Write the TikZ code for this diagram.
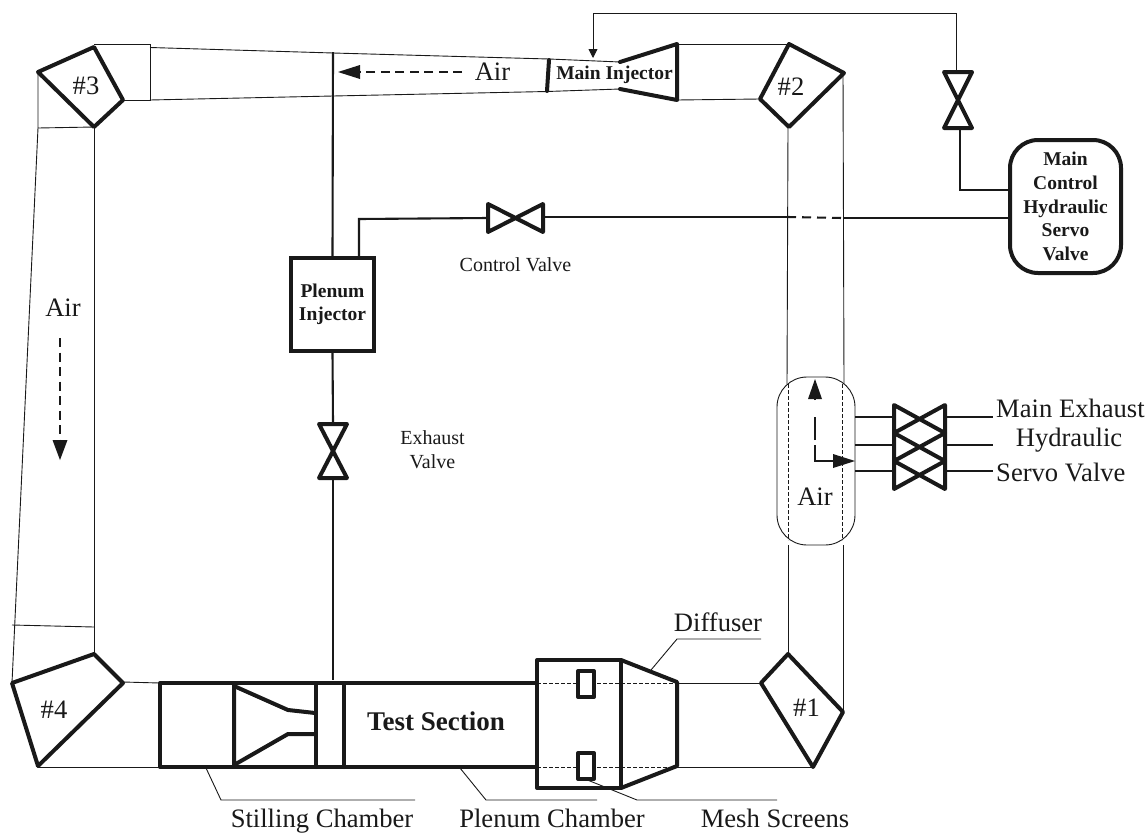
\documentclass[tikz,border=0pt]{standalone}
\usepackage{fontspec}
\setmainfont{Liberation Serif}
\usetikzlibrary{arrows.meta}
\tikzset{
    thinline/.style={draw=linecolor, line width=0.9pt},
    midline/.style={draw=linecolor, line width=2.1pt},
    heavyline/.style={draw=linecolor, line width=4pt, line join=round, line cap=round},
    hiddenline/.style={draw=linecolor, line width=0.8pt, dash pattern=on 3.5pt off 2.5pt},
    flowline/.style={draw=linecolor, line width=2.2pt, dash pattern=on 9pt off 5.5pt},
    flowtip/.style={fill=linecolor, draw=none},
    bigtext/.style={font=\fontsize{26.6}{29}\selectfont, text=linecolor, inner sep=0pt},
    smalltext/.style={font=\fontsize{20}{24}\selectfont, text=linecolor, inner sep=0pt, align=center},
    boldtext/.style={font=\fontsize{19.5}{23.6}\selectfont\bfseries, text=linecolor, inner sep=0pt, align=center}
}
\begin{document}
\begin{tikzpicture}[x=1pt, y=-1pt]
    % Define the colors
    \definecolor{linecolor}{RGB}{25, 25, 25}
    \useasboundingbox (0,0) rectangle (1148,833);

    % Draw the duct walls
    \draw[thinline] (94,44) -- (150,44) -- (150,100) -- (123,100);
    \draw[thinline] (150,47.5) -- (333,53) -- (549,59);
    \draw[thinline] (549,59) -- (620,62);
    \draw[thinline] (150,100) -- (333,96) -- (547,91.5) -- (620,89);
    \draw[thinline] (677,44) -- (789,44);
    \draw[thinline] (677,100) -- (760,99);
    \draw[thinline] (38,72) -- (38,128) -- (94,127);
    \draw[thinline] (38,128) -- (12,683);
    \draw[thinline] (94,127) -- (94,654);
    \draw[thinline] (12,625) -- (94,627);
    \draw[thinline] (123,682) -- (160,683);
    \draw[thinline] (38,767) -- (160,767);
    \draw[thinline] (677,683) -- (761,683);
    \draw[thinline] (677,767) -- (813,767);
    \draw[thinline] (788,127) -- (787,384);
    \draw[thinline] (843,73) -- (844,384);
    \draw[thinline] (788,545) -- (788,653);
    \draw[thinline] (843,545) -- (843,712);

    % Draw the corners
    \draw[heavyline] (94,47) -- (123,100) -- (94,127) -- (38,72) -- cycle;
    \draw[heavyline] (789,44) -- (844,73) -- (789,127) -- (760,99) -- cycle;
    \draw[heavyline] (788,654) -- (843,712) -- (813,767) -- (761,683) -- cycle;
    \draw[heavyline] (94,654) -- (123,683) -- (38,766) -- (12,683) -- cycle;
    \node[bigtext] (cornerthree) at (86,86) {\#3};
    \node[bigtext] (cornertwo) at (791,87) {\#2};
    \node[bigtext] (cornerone) at (806.5,708) {\#1};
    \node[bigtext] (cornerfour) at (54,710) {\#4};

    % Draw the main injector
    \draw[heavyline] (549,60) -- (547,91);
    \draw[heavyline] (620,62) -- (677,44) -- (677,100) -- (620,89);
    \node[boldtext] (maininjector) at (614.5,75) {Main Injector};

    % Draw the test section
    \draw[heavyline] (537,683) -- (160,683) -- (160,767) -- (537,767);
    \draw[heavyline] (234,686) -- (234,765) -- (288,734) -- (315,734);
    \draw[heavyline] (234,686) -- (288,710) -- (315,713);
    \draw[heavyline] (316,683) -- (316,767);
    \draw[heavyline] (344,683) -- (344,767);
    \node[bigtext, font=\fontsize{27}{29}\selectfont\bfseries] (testsection) at (436,721) {Test Section};

    % Draw the plenum chamber and diffuser
    \draw[hiddenline] (537,683) -- (677,683);
    \draw[hiddenline] (537,767) -- (677,767);
    \draw[heavyline] (537,660) rectangle (621,788);
    \draw[heavyline] (621,660) -- (677,682) -- (677,766) -- (621,788);
    \filldraw[heavyline, fill=white] (578,671) rectangle (594,697);
    \filldraw[heavyline, fill=white] (578,753) rectangle (594,779);

    % Draw the boxes
    \node[draw=linecolor, line width=4pt, minimum width=83pt, minimum height=93pt, inner sep=0pt, boldtext] (plenuminjector) at (332.5,304.5) {Plenum\\Injector};
    \node[draw=linecolor, line width=4pt, rounded corners=28pt, minimum width=111pt, minimum height=133pt, inner sep=0pt, boldtext] (maincontrol) at (1065.5,206.5) {Main\\Control\\Hydraulic\\Servo\\Valve};

    % Draw the valves
    \coordinate (controlleft) at (488,218);
    \coordinate (controlright) at (543,217);
    \coordinate (exhausttop) at (333,423);
    \coordinate (exhaustbottom) at (333,478);
    \coordinate (servotop) at (956,72);
    \coordinate (servobottom) at (960,128);
    \draw[heavyline] (488,204) -- (543,232) -- (543,204) -- (488,232) -- cycle;
    \draw[heavyline] (319,424) -- (347,424) -- (319,478) -- (347,478) -- cycle;
    \draw[heavyline] (944,72) -- (972,72) -- (944,128) -- (972,128) -- cycle;
    \draw[heavyline] (894,405) -- (945,433) -- (945,405) -- (894,433) -- cycle;
    \draw[heavyline] (894,433) -- (945,461) -- (945,433) -- (894,461) -- cycle;
    \draw[heavyline] (894,461) -- (945,489) -- (945,461) -- (894,489) -- cycle;

    % Draw the hydraulic lines
    \draw[midline] (333,52) -- (plenuminjector.north);
    \draw[midline] (plenuminjector.south) -- (exhausttop);
    \draw[midline] (exhaustbottom) -- (333,680);
    \draw[midline] (plenuminjector.north -| 359,0) -- (359,219) -- (controlleft);
    \draw[midline] (controlright) -- (787,217);
    \draw[midline, dash pattern=on 9pt off 6pt] (787,217) -- (843,218);
    \draw[midline] (843,218) -- (maincontrol.west |- 0,218);
    \draw[midline] (servobottom) -- (960,190) -- (maincontrol.west |- 0,190);
    \draw[thinline, -{Triangle[length=9pt, width=9pt]}] (servotop) -- (956,13) -- (593,13) -- (593,58);
    \draw[midline] (855,417) -- (894,417);
    \draw[midline] (855,445) -- (894,445);
    \draw[midline] (855,471) -- (894,471);
    \draw[midline] (945,417) -- (993,417);
    \draw[midline] (945,445) -- (993,445);
    \draw[midline] (945,471) -- (993,471);

    % Draw the air capsule
    \draw[thinline, rounded corners=30pt] (777,377) rectangle (855,545);
    \draw[hiddenline] (788,384) -- (788,540);
    \draw[hiddenline] (842,384) -- (842,540);

    % Draw the air arrows
    \draw[flowline] (462,72) -- (358,72);
    \filldraw[flowtip] (338,72) -- (360,65) -- (360,79) -- cycle;
    \draw[flowline] (60,338) -- (60,442);
    \filldraw[flowtip] (60,460) -- (52.5,440) -- (67.5,440) -- cycle;
    \draw[flowline, dash pattern=on 34pt off 5pt on 23pt off 17pt on 3pt] (833,461) -- (815,461) -- (815,398);
    \filldraw[flowtip] (815,379) -- (808,399) -- (822,399) -- cycle;
    \filldraw[flowtip] (855,461) -- (833,454) -- (833,468) -- cycle;
    \node[bigtext] (airtop) at (492.5,72) {Air};
    \node[bigtext] (airleft) at (63,308) {Air};
    \node[bigtext] (aircapsule) at (815,497) {Air};

    % Draw the labels and leaders
    \node[smalltext] (controlvalve) at (515.5,265) {Control Valve};
    \node[smalltext] (exhaustvalve) at (432.5,450) {Exhaust\\Valve};
    \node[bigtext, anchor=west] (mainexhaust) at (996,408) {Main Exhaust};
    \node[bigtext] (hydraulic) at (1069,440) {Hydraulic};
    \node[bigtext, anchor=west] (servovalve) at (996,472) {Servo Valve};
    \node[bigtext] (diffuser) at (718,622) {Diffuser};
    \node[bigtext, anchor=base] (stilling) at (322,827.5) {Stilling Chamber};
    \node[bigtext, anchor=base] (plenum) at (552,827.5) {Plenum Chamber};
    \node[bigtext, anchor=base] (mesh) at (775,827.5) {Mesh Screens};
    \draw[thinline] (651,670) -- (677,639) -- (761,639);
    \draw[thinline] (206,768) -- (221,800) -- (415,800);
    \draw[thinline] (460,768) -- (486,800) -- (597,800);
    \draw[thinline] (585,779) -- (637,800) -- (777,800);
\end{tikzpicture}
\end{document}
